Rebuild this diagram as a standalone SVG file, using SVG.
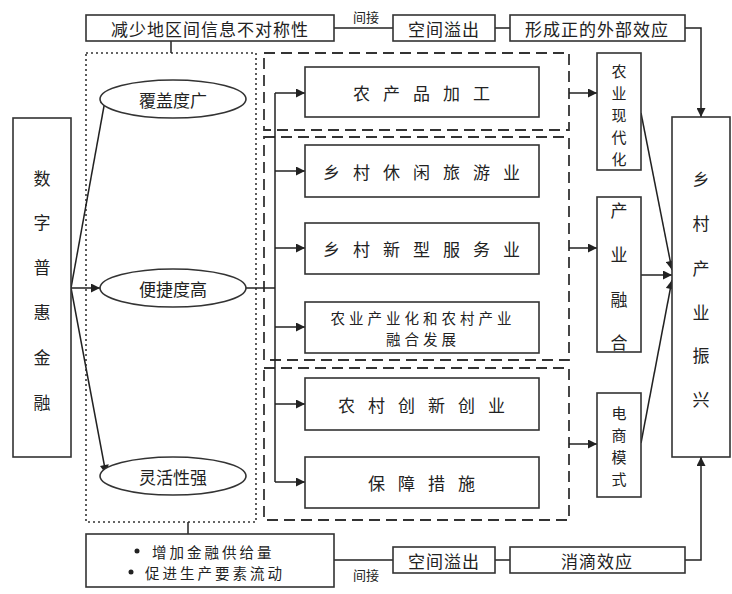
<svg xmlns="http://www.w3.org/2000/svg" width="732" height="594" viewBox="0 0 732 594">
<style>
text{font-family:"Noto Sans CJK SC","Liberation Sans",sans-serif;fill:#222;text-anchor:middle;dominant-baseline:central;font-size:17px}
.box{fill:#fff;stroke:#333;stroke-width:1.6}
.dot{fill:none;stroke:#333;stroke-width:1.6;stroke-dasharray:2,3}
.dash{fill:none;stroke:#333;stroke-width:1.8;stroke-dasharray:11,6}
.ln{fill:none;stroke:#222;stroke-width:1.5}
.sp{letter-spacing:13px}
.lbl{font-size:13px}
.sm{font-size:15px}
.two{font-size:14.5px;letter-spacing:4px}
</style>
<defs>
<marker id="arr" viewBox="0 0 10 10" refX="10" refY="5" markerWidth="11" markerHeight="9" markerUnits="userSpaceOnUse" orient="auto"><path d="M0,0 L10,5 L0,10 z" fill="#222"/></marker>
</defs>
<g id="groups">
<rect class="dot" x="86" y="53" width="170" height="469"/>
<rect class="dash" x="264" y="53" width="305" height="77"/>
<rect class="dash" x="264" y="137" width="305" height="223"/>
<rect class="dash" x="264" y="368" width="305" height="152"/>
</g>
<g id="connectors">
<line class="ln" x1="171" y1="41" x2="171" y2="53"/>
<line class="ln" x1="334" y1="28" x2="393" y2="28"/>
<line class="ln" x1="495" y1="28" x2="510" y2="28"/>
<path class="ln" d="M685,28 H701 V117" marker-end="url(#arr)"/>
<line class="ln" x1="188" y1="522" x2="188" y2="534"/>
<line class="ln" x1="334" y1="560" x2="393" y2="560"/>
<line class="ln" x1="495" y1="560" x2="510" y2="560"/>
<path class="ln" d="M685,560 H701 V457" marker-end="url(#arr)"/>
<line class="ln" x1="71" y1="288" x2="106" y2="95" marker-end="url(#arr)"/>
<line class="ln" x1="71" y1="288" x2="100" y2="288" marker-end="url(#arr)"/>
<line class="ln" x1="71" y1="288" x2="106" y2="474" marker-end="url(#arr)"/>
<line class="ln" x1="246" y1="288" x2="275" y2="288"/>
<line class="ln" x1="275" y1="93" x2="275" y2="482"/>
<line class="ln" x1="275" y1="93" x2="305" y2="93" marker-end="url(#arr)"/>
<line class="ln" x1="275" y1="171" x2="305" y2="171" marker-end="url(#arr)"/>
<line class="ln" x1="275" y1="248" x2="305" y2="248" marker-end="url(#arr)"/>
<line class="ln" x1="275" y1="327" x2="305" y2="327" marker-end="url(#arr)"/>
<line class="ln" x1="275" y1="404" x2="305" y2="404" marker-end="url(#arr)"/>
<line class="ln" x1="275" y1="482" x2="305" y2="482" marker-end="url(#arr)"/>
<line class="ln" x1="569" y1="93" x2="597" y2="93" marker-end="url(#arr)"/>
<line class="ln" x1="569" y1="248" x2="597" y2="248" marker-end="url(#arr)"/>
<line class="ln" x1="569" y1="444" x2="597" y2="444" marker-end="url(#arr)"/>
<line class="ln" x1="641" y1="113" x2="672" y2="270" marker-end="url(#arr)"/>
<line class="ln" x1="641" y1="275" x2="672" y2="275" marker-end="url(#arr)"/>
<line class="ln" x1="641" y1="443" x2="672" y2="280" marker-end="url(#arr)"/>
<text class="lbl" x="366" y="16">间接</text>
<text class="lbl" x="366" y="574">间接</text>
</g>
<g id="n-info"><rect class="box" x="86" y="15" width="248" height="26"/><text x="210" y="28" style="letter-spacing:1px">减少地区间信息不对称性</text></g>
<g id="n-spill1"><rect class="box" x="393" y="15" width="102" height="26"/><text x="444" y="28" style="letter-spacing:1px">空间溢出</text></g>
<g id="n-ext"><rect class="box" x="510" y="15" width="175" height="26"/><text x="597" y="28" style="letter-spacing:1px">形成正的外部效应</text></g>
<g id="n-dfi"><rect class="box" x="13" y="118" width="58" height="339"/>
<text x="42" y="177">数</text><text x="42" y="221">字</text><text x="42" y="266">普</text><text x="42" y="311">惠</text><text x="42" y="356">金</text><text x="42" y="401">融</text></g>
<g id="n-cover"><ellipse class="box" cx="173" cy="99" rx="73" ry="19"/><text x="173" y="99">覆盖度广</text></g>
<g id="n-conv"><ellipse class="box" cx="173" cy="288" rx="73" ry="19"/><text x="173" y="288">便捷度高</text></g>
<g id="n-flex"><ellipse class="box" cx="173" cy="476" rx="73" ry="19"/><text x="173" y="476">灵活性强</text></g>
<g id="n-proc"><rect class="box" x="305" y="67" width="234" height="50"/><text class="sp" x="428" y="92">农产品加工</text></g>
<g id="n-tour"><rect class="box" x="305" y="145" width="234" height="52"/><text class="sp" x="428" y="171">乡村休闲旅游业</text></g>
<g id="n-serv"><rect class="box" x="305" y="223" width="234" height="51"/><text class="sp" x="428" y="248">乡村新型服务业</text></g>
<g id="n-integ"><rect class="box" x="305" y="302" width="234" height="51"/><text class="two" x="423" y="317">农业产业化和农村产业</text><text class="two" x="423" y="338">融合发展</text></g>
<g id="n-innov"><rect class="box" x="305" y="378" width="234" height="52"/><text class="sp" x="428" y="404">农村创新创业</text></g>
<g id="n-guar"><rect class="box" x="305" y="457" width="234" height="51"/><text class="sp" x="428" y="482">保障措施</text></g>
<g id="n-modern"><rect class="box" x="597" y="53" width="44" height="117"/>
<text class="sm" x="619" y="70">农</text><text class="sm" x="619" y="92">业</text><text class="sm" x="619" y="114">现</text><text class="sm" x="619" y="136">代</text><text class="sm" x="619" y="158">化</text></g>
<g id="n-fusion"><rect class="box" x="597" y="197" width="44" height="155"/>
<text x="619" y="209">产</text><text x="619" y="253">业</text><text x="619" y="298">融</text><text x="619" y="341">合</text></g>
<g id="n-ecom"><rect class="box" x="597" y="393" width="44" height="104"/>
<text class="sm" x="619" y="412">电</text><text class="sm" x="619" y="434">商</text><text class="sm" x="619" y="456">模</text><text class="sm" x="619" y="478">式</text></g>
<g id="n-revital"><rect class="box" x="672" y="117" width="58" height="340"/>
<text x="701" y="178">乡</text><text x="701" y="222">村</text><text x="701" y="267">产</text><text x="701" y="311">业</text><text x="701" y="354">振</text><text x="701" y="398">兴</text></g>
<g id="n-supply"><rect class="box" x="86" y="534" width="248" height="53"/>
<circle cx="137" cy="551" r="2.5" fill="#222"/><text class="two" x="152" y="551" style="text-anchor:start;letter-spacing:3px">增加金融供给量</text>
<circle cx="131" cy="572" r="2.5" fill="#222"/><text class="two" x="145" y="572" style="text-anchor:start;letter-spacing:3px">促进生产要素流动</text></g>
<g id="n-spill2"><rect class="box" x="393" y="547" width="102" height="26"/><text x="444" y="560" style="letter-spacing:1px">空间溢出</text></g>
<g id="n-trickle"><rect class="box" x="510" y="547" width="175" height="26"/><text x="597" y="560" style="letter-spacing:1px">消滴效应</text></g>
</svg>
